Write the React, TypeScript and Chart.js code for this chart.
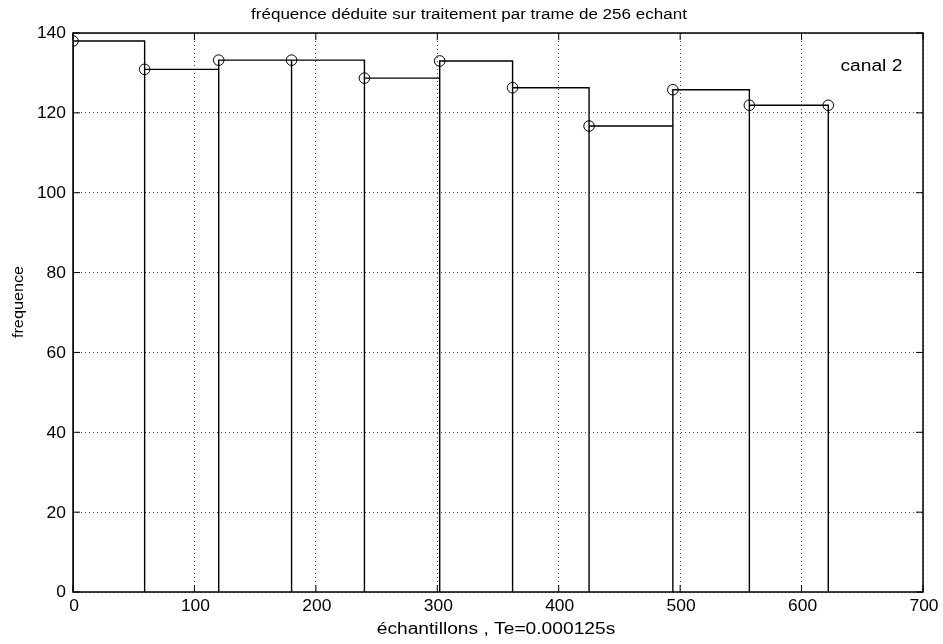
import React, { useEffect, useRef } from "react";
import { Chart, registerables } from "chart.js";

Chart.register(...registerables);

// Frame start positions (samples) and deduced frequency per frame
const frameStarts = [0, 59, 120, 180, 240, 302, 362, 425, 494, 557, 622];
const frequencies = [138.0, 130.9, 133.2, 133.2, 128.7, 133.0, 126.3, 116.7, 125.8, 121.9, 121.9];

const xTicks = [0, 100, 200, 300, 400, 500, 600, 700];
const yTicks = [0, 20, 40, 60, 80, 100, 120, 140];

const titleText = "fréquence déduite sur traitement par trame de 256 echant";
const xLabel = "échantillons , Te=0.000125s";
const yLabel = "frequence";
const annotation = "canal 2";
const annotationPos = { x: 632, y: 131.7 };

const FONT = "'Liberation Sans', Arial, Helvetica, sans-serif";

function drawText(
  ctx: CanvasRenderingContext2D,
  text: string,
  x: number,
  y: number,
  size: number,
  sx: number,
  align: CanvasTextAlign,
  rotate = 0
) {
  ctx.save();
  ctx.translate(x, y);
  if (rotate) ctx.rotate(rotate);
  ctx.scale(sx, 1);
  ctx.font = `${size}px ${FONT}`;
  ctx.textAlign = align;
  ctx.textBaseline = "middle";
  ctx.fillStyle = "#000";
  ctx.fillText(text, 0, 0);
  ctx.restore();
}

export default function App() {
  const ref = useRef<HTMLCanvasElement | null>(null);

  useEffect(() => {
    if (!ref.current) return;

    const outline: { x: number; y: number }[] = [];
    for (let i = 0; i < frameStarts.length - 1; i++) {
      outline.push({ x: frameStarts[i], y: 0 });
      outline.push({ x: frameStarts[i], y: frequencies[i] });
      outline.push({ x: frameStarts[i + 1], y: frequencies[i] });
      outline.push({ x: frameStarts[i + 1], y: 0 });
    }
    const markers = frameStarts.map((x, i) => ({ x, y: frequencies[i] }));

    const decor = {
      id: "decor",
      afterDraw(chart: any) {
        const { ctx, chartArea } = chart;
        const xs = chart.scales.x;
        const ys = chart.scales.y;
        ctx.save();
        // box
        ctx.strokeStyle = "#000";
        ctx.lineWidth = 1.5;
        ctx.strokeRect(chartArea.left, chartArea.top, chartArea.right - chartArea.left, chartArea.bottom - chartArea.top);
        // inward ticks
        ctx.lineWidth = 1;
        const tl = 7;
        xTicks.forEach((v) => {
          const px = xs.getPixelForValue(v);
          ctx.beginPath();
          ctx.moveTo(px, chartArea.bottom);
          ctx.lineTo(px, chartArea.bottom - tl);
          ctx.moveTo(px, chartArea.top);
          ctx.lineTo(px, chartArea.top + tl);
          ctx.stroke();
          drawText(ctx, String(v), px + 1, chartArea.bottom + 15, 16, 1.09, "center");
        });
        yTicks.forEach((v) => {
          const py = ys.getPixelForValue(v);
          ctx.beginPath();
          ctx.moveTo(chartArea.left, py);
          ctx.lineTo(chartArea.left + tl, py);
          ctx.moveTo(chartArea.right, py);
          ctx.lineTo(chartArea.right - tl, py);
          ctx.stroke();
          drawText(ctx, String(v), chartArea.left - 7, py + 1, 16, 1.09, "right");
        });
        // texts
        drawText(ctx, titleText, 469, 15, 15.5, 1.1, "center");
        drawText(ctx, xLabel, 496, 630, 16, 1.2, "center");
        drawText(ctx, yLabel, 19, 302, 15, 1.08, "center", -Math.PI / 2);
        drawText(
          ctx,
          annotation,
          xs.getPixelForValue(annotationPos.x),
          ys.getPixelForValue(annotationPos.y),
          16,
          1.2,
          "left"
        );
        ctx.restore();
      },
    };

    const chart = new Chart(ref.current, {
      type: "scatter",
      data: {
        datasets: [
          {
            data: outline,
            showLine: true,
            borderColor: "#000",
            borderWidth: 1.4,
            pointRadius: 0,
            pointHoverRadius: 0,
            fill: false,
          } as any,
          {
            data: markers,
            showLine: false,
            borderColor: "#000",
            backgroundColor: "rgba(0,0,0,0)",
            borderWidth: 1,
            pointRadius: 5.3,
            pointStyle: "circle",
          } as any,
        ],
      },
      options: {
        animation: false,
        responsive: false,
        devicePixelRatio: 1,
        layout: { padding: { left: 0, top: 33, right: 20, bottom: 0 } },
        plugins: {
          legend: { display: false },
          tooltip: { enabled: false },
          title: { display: false },
        },
        scales: {
          x: {
            type: "linear",
            min: 0,
            max: 700,
            afterBuildTicks: (s: any) => {
              s.ticks = xTicks.map((v) => ({ value: v }));
            },
            afterFit: (s: any) => {
              s.height = 644 - 592;
            },
            ticks: { display: false },
            grid: {
              color: "#444",
              lineWidth: 1,
              drawTicks: false,
            },
            border: { display: false, dash: [1, 3] } as any,
          },
          y: {
            type: "linear",
            min: 0,
            max: 140,
            afterBuildTicks: (s: any) => {
              s.ticks = yTicks.map((v) => ({ value: v }));
            },
            afterFit: (s: any) => {
              s.width = 73;
            },
            ticks: { display: false },
            grid: {
              color: "#444",
              lineWidth: 1,
              drawTicks: false,
            },
            border: { display: false, dash: [1, 3] } as any,
          },
        },
      },
      plugins: [decor],
    });

    return () => chart.destroy();
  }, []);

  return (
    <div style={{ position: "fixed", left: 0, top: 0, width: 943, height: 644, background: "#fff" }}>
      <canvas ref={ref} width={943} height={644} style={{ width: 943, height: 644 }} />
    </div>
  );
}
